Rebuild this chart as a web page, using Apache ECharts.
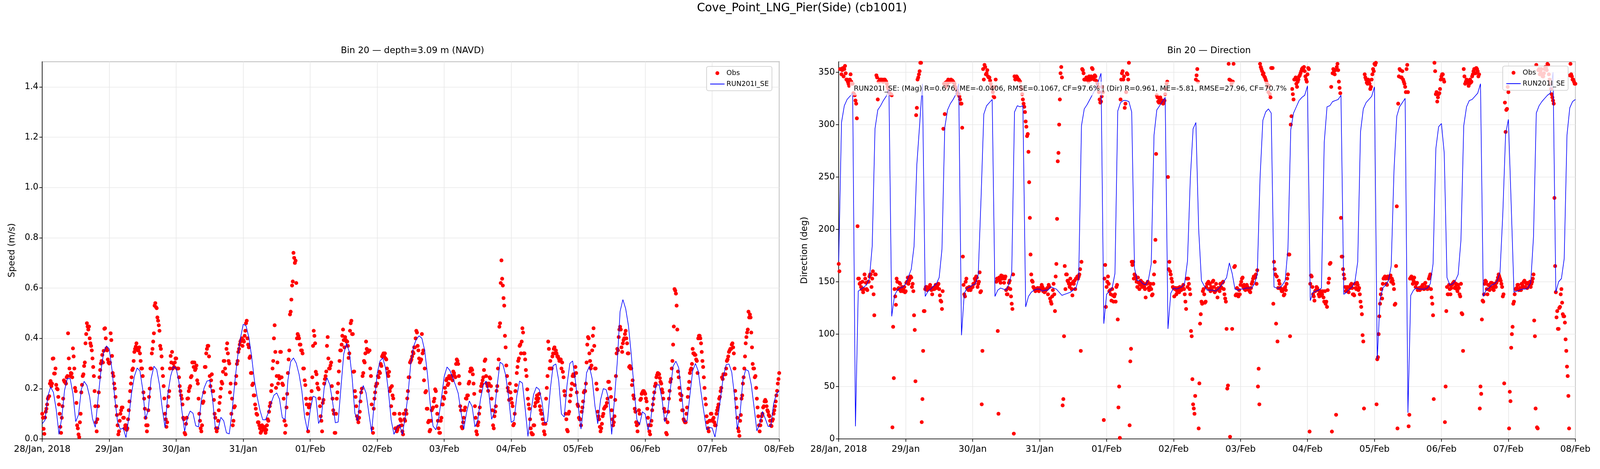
<!DOCTYPE html>
<html>
<head>
<meta charset="utf-8">
<title>Cove_Point_LNG_Pier(Side) (cb1001)</title>
<script src="https://cdn.jsdelivr.net/npm/echarts@6/dist/echarts.min.js"></script>
<style>
  html, body { margin: 0; padding: 0; background: #fff; overflow: hidden; }
  #chart { width: 100vw; height: 100vh; }
</style>
</head>
<body>
<div id="chart"></div>
<script>
// x axis: hours since 28/Jan/2018 00:00, one tick per day
const tickLabels = ['28/Jan, 2018', '29/Jan', '30/Jan', '31/Jan', '01/Feb', '02/Feb',
  '03/Feb', '04/Feb', '05/Feb', '06/Feb', '07/Feb', '08/Feb'];

// observed speed (m/s) on the hour and half hour
const obsSpeed = [
  0.10,0.04,0.085,0.12,0.16,0.17,0.23,0.22,0.32,0.26,
  0.215,0.197,0.137,0.048,0.084,0.16,0.227,0.22,0.25,0.32,
  0.25,0.26,0.36,0.28,0.19,0.054,0.018,0.066,0.185,0.25,
  0.29,0.38,0.46,0.435,0.40,0.37,0.32,0.25,0.13,0.03,
  0.13,0.245,0.30,0.334,0.35,0.44,0.36,0.316,0.30,0.42,
  0.33,0.25,0.20,0.13,0.054,0.03,0.10,0.125,0.084,0.042,
  0.054,0.042,0.114,0.19,0.245,0.28,0.346,0.367,0.358,0.352,
  0.34,0.28,0.25,0.16,0.084,0.03,0.114,0.20,0.28,0.358,
  0.42,0.54,0.52,0.47,0.43,0.358,0.28,0.21,0.10,0.048,
  0.13,0.19,0.33,0.346,0.30,0.304,0.32,0.28,0.245,0.19,
  0.16,0.084,0.024,0.06,0.16,0.19,0.21,0.25,0.304,0.304,
  0.28,0.233,0.16,0.072,0.03,0.143,0.185,0.286,0.358,0.37,
  0.25,0.233,0.19,0.155,0.084,0.03,0.072,0.143,0.20,0.22,
  0.31,0.28,0.358,0.34,0.30,0.22,0.16,0.072,0.13,0.25,
  0.31,0.358,0.387,0.40,0.393,0.41,0.46,0.40,0.364,0.328,
  0.262,0.22,0.173,0.12,0.096,0.066,0.042,0.03,0.048,0.036,
  0.024,0.054,0.072,0.13,0.19,0.28,0.40,0.346,0.25,0.22,
  0.24,0.346,0.22,0.16,0.024,0.125,0.262,0.352,0.506,0.61,
  0.74,0.70,0.62,0.417,0.40,0.375,0.352,0.28,0.233,0.16,
  0.10,0.125,0.16,0.19,0.37,0.41,0.267,0.22,0.197,0.13,
  0.072,0.143,0.22,0.25,0.37,0.32,0.28,0.304,0.16,0.10,
  0.024,0.16,0.22,0.31,0.352,0.41,0.393,0.405,0.387,0.37,
  0.34,0.46,0.417,0.267,0.19,0.13,0.078,0.084,0.149,0.20,
  0.262,0.304,0.387,0.352,0.352,0.28,0.137,0.024,0.16,0.21,
  0.22,0.245,0.262,0.29,0.334,0.328,0.32,0.28,0.25,0.19,
  0.13,0.173,0.10,0.042,0.03,0.048,0.10,0.072,0.03,0.10,
  0.072,0.10,0.19,0.245,0.31,0.328,0.34,0.364,0.43,0.37,
  0.32,0.31,0.417,0.352,0.28,0.19,0.12,0.072,0.036,0.114,
  0.125,0.16,0.19,0.10,0.042,0.024,0.084,0.137,0.16,0.185,
  0.24,0.22,0.24,0.25,0.233,0.262,0.245,0.316,0.298,0.22,
  0.114,0.042,0.084,0.125,0.16,0.173,0.227,0.28,0.274,0.22,
  0.13,0.03,0.054,0.10,0.19,0.22,0.245,0.31,0.25,0.21,
  0.22,0.24,0.16,0.054,0.09,0.13,0.21,0.316,0.46,0.71,
  0.61,0.53,0.364,0.25,0.19,0.22,0.16,0.13,0.06,0.19,
  0.262,0.31,0.37,0.34,0.44,0.34,0.316,0.25,0.16,0.12,
  0.042,0.018,0.054,0.13,0.16,0.149,0.179,0.114,0.10,0.06,
  0.018,0.16,0.25,0.358,0.31,0.28,0.34,0.364,0.352,0.328,
  0.32,0.316,0.28,0.267,0.19,0.10,0.036,0.10,0.149,0.197,
  0.25,0.25,0.286,0.185,0.13,0.078,0.054,0.125,0.185,0.19,
  0.304,0.405,0.34,0.28,0.352,0.44,0.28,0.22,0.108,0.078,
  0.03,0.06,0.10,0.125,0.13,0.16,0.227,0.20,0.114,0.054,
  0.09,0.25,0.358,0.405,0.446,0.364,0.38,0.40,0.43,0.38,
  0.34,0.29,0.28,0.233,0.16,0.108,0.054,0.06,0.10,0.16,
  0.185,0.19,0.179,0.149,0.084,0.03,0.054,0.114,0.16,0.21,
  0.245,0.262,0.257,0.227,0.197,0.16,0.108,0.024,0.066,0.16,
  0.227,0.28,0.375,0.596,0.578,0.435,0.245,0.179,0.173,0.114,
  0.072,0.066,0.125,0.20,0.262,0.28,0.358,0.34,0.334,0.31,
  0.40,0.41,0.38,0.31,0.245,0.16,0.09,0.042,0.072,0.10,
  0.072,0.084,0.054,0.10,0.125,0.16,0.19,0.245,0.257,0.257,
  0.28,0.316,0.346,0.358,0.375,0.364,0.28,0.16,0.084,0.03,
  0.072,0.16,0.22,0.28,0.38,0.423,0.506,0.495,0.423,0.298,
  0.28,0.25,0.16,0.09,0.03,0.072,0.10,0.13,0.155,0.13,
  0.108,0.09,0.054,0.072,0.10,0.13,0.173,0.22,0.262
];

// observed speed (m/s) at quarter past and quarter to
const obsSpeedQ = [
  0.084,0.02,0.108,0.137,0.167,0.22,0.21,0.319,0.26,0.28,
  0.20,0.167,0.10,0.024,0.13,0.233,0.227,0.245,0.42,0.28,
  0.262,0.245,0.328,0.203,0.143,0.042,0.007,0.10,0.215,0.257,
  0.304,0.417,0.447,0.447,0.38,0.352,0.286,0.19,0.066,0.078,
  0.185,0.274,0.31,0.304,0.438,0.40,0.352,0.304,0.304,0.393,
  0.262,0.22,0.167,0.095,0.018,0.072,0.114,0.125,0.084,0.054,
  0.036,0.078,0.149,0.22,0.274,0.31,0.358,0.38,0.352,0.364,
  0.31,0.28,0.185,0.12,0.054,0.054,0.167,0.28,0.34,0.387,
  0.53,0.524,0.483,0.452,0.37,0.328,0.25,0.161,0.078,0.066,
  0.167,0.28,0.304,0.28,0.286,0.32,0.28,0.28,0.21,0.173,
  0.137,0.078,0.018,0.084,0.161,0.203,0.245,0.304,0.286,0.274,
  0.292,0.22,0.10,0.042,0.054,0.149,0.286,0.34,0.37,0.328,
  0.21,0.257,0.19,0.10,0.042,0.042,0.114,0.167,0.227,0.267,
  0.31,0.257,0.38,0.31,0.185,0.10,0.054,0.125,0.22,0.298,
  0.346,0.375,0.393,0.37,0.387,0.43,0.47,0.375,0.322,0.262,
  0.214,0.173,0.137,0.10,0.066,0.054,0.024,0.054,0.042,0.048,
  0.036,0.078,0.108,0.143,0.214,0.31,0.452,0.203,0.304,0.25,
  0.346,0.245,0.214,0.072,0.054,0.179,0.316,0.495,0.554,0.626,
  0.72,0.709,0.40,0.41,0.375,0.352,0.34,0.28,0.214,0.137,
  0.03,0.137,0.161,0.245,0.43,0.38,0.257,0.203,0.161,0.09,
  0.03,0.155,0.238,0.268,0.405,0.28,0.292,0.21,0.114,0.024,
  0.10,0.185,0.268,0.352,0.375,0.435,0.364,0.393,0.387,0.322,
  0.43,0.47,0.417,0.268,0.167,0.09,0.066,0.108,0.185,0.25,
  0.31,0.34,0.358,0.346,0.352,0.25,0.042,0.12,0.185,0.22,
  0.25,0.267,0.298,0.328,0.34,0.34,0.316,0.262,0.267,0.203,
  0.21,0.161,0.10,0.042,0.036,0.048,0.078,0.054,0.018,0.078,
  0.114,0.161,0.245,0.304,0.316,0.346,0.364,0.40,0.423,0.352,
  0.304,0.316,0.34,0.233,0.185,0.12,0.066,0.03,0.072,0.12,
  0.149,0.197,0.13,0.072,0.024,0.072,0.137,0.167,0.203,0.233,
  0.214,0.25,0.245,0.25,0.268,0.25,0.298,0.31,0.25,0.13,
  0.048,0.066,0.114,0.161,0.173,0.22,0.268,0.28,0.257,0.179,
  0.084,0.018,0.066,0.125,0.21,0.233,0.274,0.316,0.22,0.191,
  0.245,0.21,0.114,0.042,0.108,0.191,0.28,0.446,0.62,0.637,
  0.56,0.41,0.292,0.203,0.155,0.185,0.143,0.054,0.10,0.214,
  0.286,0.32,0.375,0.387,0.423,0.34,0.274,0.197,0.137,0.078,
  0.024,0.018,0.054,0.143,0.173,0.161,0.13,0.10,0.078,0.03,
  0.06,0.203,0.387,0.28,0.28,0.328,0.358,0.34,0.34,0.328,
  0.31,0.316,0.304,0.245,0.173,0.078,0.03,0.108,0.173,0.22,
  0.257,0.214,0.262,0.137,0.084,0.078,0.108,0.149,0.191,0.22,
  0.375,0.40,0.31,0.292,0.41,0.37,0.28,0.197,0.09,0.048,
  0.042,0.09,0.12,0.13,0.143,0.227,0.20,0.167,0.078,0.066,
  0.155,0.34,0.352,0.435,0.435,0.346,0.393,0.417,0.40,0.34,
  0.286,0.28,0.214,0.173,0.12,0.066,0.03,0.114,0.155,0.179,
  0.19,0.185,0.161,0.12,0.054,0.018,0.072,0.137,0.185,0.22,
  0.254,0.26,0.242,0.22,0.185,0.12,0.078,0.018,0.108,0.191,
  0.238,0.31,0.447,0.59,0.53,0.268,0.203,0.155,0.114,0.078,
  0.066,0.10,0.167,0.227,0.274,0.298,0.34,0.334,0.316,0.262,
  0.41,0.40,0.346,0.286,0.203,0.137,0.066,0.03,0.072,0.10,
  0.078,0.066,0.054,0.114,0.137,0.167,0.203,0.238,0.257,0.257,
  0.31,0.328,0.352,0.358,0.38,0.34,0.191,0.125,0.042,0.012,
  0.095,0.173,0.245,0.328,0.405,0.435,0.483,0.483,0.364,0.28,
  0.245,0.203,0.125,0.054,0.054,0.09,0.125,0.149,0.149,0.114,
  0.095,0.072,0.051,0.078,0.114,0.149,0.191,0.238
];

// model speed (m/s), hourly
const modelSpeed = [
  0.06,0.075,0.17,0.206,0.185,0.117,0.018,0.084,0.194,0.24,
  0.24,0.179,0.069,0.096,0.197,0.229,0.213,0.167,0.081,0.046,
  0.161,0.268,0.344,0.37,0.358,0.274,0.161,0.066,0.038,0.043,
  0.005,0.084,0.182,0.249,0.282,0.27,0.197,0.078,0.117,0.239,
  0.289,0.276,0.215,0.12,0.045,0.179,0.25,0.288,0.28,0.224,
  0.114,0.03,0.084,0.111,0.102,0.052,0.048,0.155,0.203,0.23,
  0.233,0.161,0.045,0.04,0.086,0.072,0.024,0.02,0.108,0.227,
  0.328,0.4,0.456,0.45,0.405,0.328,0.233,0.167,0.114,0.076,
  0.076,0.105,0.143,0.174,0.183,0.158,0.084,0.078,0.233,0.307,
  0.322,0.301,0.257,0.191,0.087,0.033,0.114,0.17,0.165,0.061,
  0.087,0.203,0.243,0.216,0.149,0.064,0.067,0.203,0.337,0.38,
  0.346,0.245,0.102,0.072,0.179,0.212,0.183,0.102,0.027,0.152,
  0.26,0.31,0.322,0.28,0.191,0.075,0.018,0.045,0.058,0.018,
  0.084,0.173,0.298,0.367,0.396,0.41,0.4,0.352,0.257,0.138,
  0.051,0.036,0.081,0.161,0.248,0.286,0.273,0.245,0.215,0.182,
  0.108,0.039,0.105,0.151,0.129,0.048,0.072,0.158,0.214,0.23,
  0.182,0.078,0.108,0.215,0.305,0.297,0.254,0.173,0.066,0.073,
  0.17,0.23,0.222,0.12,0.01,0.102,0.176,0.206,0.197,0.149,
  0.063,0.069,0.197,0.291,0.298,0.233,0.099,0.087,0.215,0.3,
  0.31,0.23,0.132,0.039,0.138,0.263,0.289,0.239,0.131,0.06,
  0.155,0.2,0.196,0.155,0.018,0.161,0.307,0.507,0.554,0.518,
  0.45,0.337,0.203,0.078,0.057,0.108,0.099,0.035,0.078,0.167,
  0.214,0.215,0.161,0.068,0.102,0.197,0.289,0.309,0.283,0.185,
  0.067,0.072,0.173,0.271,0.3,0.27,0.185,0.108,0.036,0.046,
  0.043,0.007,0.078,0.164,0.25,0.295,0.298,0.265,0.17,0.039,
  0.102,0.233,0.276,0.27,0.215,0.126,0.032,0.06,0.109,0.081,
  0.05,0.05,0.14,0.179,0.191
];

// observed direction (deg) on the hour and half hour
const obsDir = [
  167,353,348,354,353,349,343,339,343,341,
  339,329,323,306,153,148,145,150,143,153,
  143,150,155,157,153,138,157,347,324,341,
  343,343,341,343,341,336,331,329,328,107,
  143,128,150,144,148,143,141,145,141,150,
  148,153,154,148,118,55,316,345,351,359,
  38,122,143,145,143,145,144,138,143,145,
  144,147,143,132,124,296,310,336,339,342,
  341,342,341,339,334,330,329,324,320,174,
  138,150,144,142,143,144,145,148,151,154,
  148,159,141,84,343,355,349,346,345,339,
  334,327,336,150,103,154,149,155,155,153,
  142,138,149,143,129,157,346,345,345,343,
  341,334,324,317,303,289,274,211,157,150,
  144,141,142,143,144,144,145,143,141,143,
  138,145,131,136,148,122,167,265,300,349,
  345,38,165,157,151,148,153,143,150,151,
  153,155,155,162,169,352,343,343,343,341,
  345,346,353,343,346,341,336,324,322,336,
  18,166,145,155,141,138,143,131,138,145,
  114,50,324,349,343,316,331,348,359,74,
  169,169,157,153,145,149,147,150,149,145,
  135,148,144,145,143,138,157,190,328,322,
  324,321,323,321,329,339,250,169,157,150,
  144,143,138,144,140,143,144,147,138,124,
  145,148,138,98,33,24,343,353,10,110,
  131,141,138,131,148,150,148,145,150,145,
  141,143,144,141,145,149,143,134,105,51,
  343,342,105,358,165,138,138,142,147,153,
  145,143,144,145,142,140,148,153,155,157,
  161,67,358,353,348,346,343,339,331,329,
  354,354,169,157,155,144,148,143,141,137,
  145,148,157,176,300,334,324,343,339,341,
  346,349,353,354,351,343,348,353,148,155,
  138,132,142,144,138,140,137,141,131,129,
  126,149,167,336,349,351,352,355,352,335,
  211,174,157,145,144,141,145,147,144,138,
  148,143,147,144,131,119,93,348,343,339,
  341,334,343,353,358,359,76,100,129,143,
  148,154,153,147,153,155,150,151,143,129,
  222,320,353,345,351,341,336,353,331,23,
  154,153,151,149,148,142,144,143,145,144,
  148,145,143,153,157,135,118,359,329,322,
  329,334,346,348,341,50,145,138,143,144,
  148,150,145,143,147,138,148,119,353,339,
  343,341,339,340,346,351,353,354,351,348,
  50,114,131,148,150,138,147,145,149,143,
  148,145,151,157,153,148,136,53,293,315,
  331,45,87,107,131,143,144,147,143,142,
  147,150,145,148,149,147,145,150,157,98,
  357,10,353,351,348,346,353,354,358,348,
  339,329,323,230,140,122,105,126,143,119,
  117,95,69,41,347,348,343,341,339
];

// observed direction (deg) at quarter past and quarter to
const obsDirQ = [
  160,353,352,346,356,343,341,337,348,339,
  330,328,320,203,153,149,143,140,157,149,
  142,150,157,145,160,118,157,345,341,343,
  343,341,343,342,339,334,330,329,11,58,
  136,153,143,149,141,145,142,140,149,154,
  151,155,145,141,104,309,343,348,359,16,
  84,122,145,142,144,147,142,144,143,147,
  145,148,137,131,141,339,340,341,343,341,
  343,342,340,336,333,329,327,320,297,147,
  136,153,143,145,142,145,148,153,155,145,
  150,140,33,353,357,348,352,345,342,336,
  331,326,343,153,24,151,156,153,149,155,
  138,144,151,136,124,5,343,346,343,342,
  336,329,320,312,298,291,245,176,151,145,
  143,142,144,141,143,147,141,140,142,144,
  147,134,129,142,138,155,210,273,324,355,
  32,98,143,157,150,145,148,137,148,143,
  153,153,157,84,353,349,343,345,345,346,
  343,354,345,347,342,339,331,321,327,331,
  153,126,150,148,142,132,137,136,131,147,
  30,1,343,351,346,320,349,343,13,86,
  166,153,156,150,154,143,151,145,147,143,
  148,150,142,148,137,148,169,272,326,321,
  326,323,320,323,334,341,162,160,153,145,
  136,144,141,143,145,142,145,143,131,153,
  153,143,103,57,29,41,347,341,53,119,
  129,143,130,145,149,143,141,142,151,140,
  148,135,142,148,144,150,138,131,48,358,
  2,339,341,164,137,144,136,138,150,154,
  147,142,147,144,141,144,150,155,154,148,
  50,33,355,351,349,345,341,336,337,326,
  354,129,162,110,93,151,144,141,143,138,
  142,153,176,98,308,329,343,345,336,343,
  347,351,354,355,346,341,354,7,156,145,
  136,141,145,142,136,141,138,135,141,131,
  142,153,168,7,353,348,23,358,341,330,
  174,162,153,141,145,140,144,148,138,137,
  144,149,142,138,126,99,29,345,340,343,
  339,336,348,351,357,33,78,117,138,134,
  153,155,148,155,154,156,153,148,128,165,
  10,346,352,345,343,339,331,357,12,153,
  155,148,154,145,149,143,142,145,147,143,
  149,144,145,155,143,129,38,351,331,326,
  330,343,348,343,16,122,138,147,138,147,
  149,144,148,141,144,136,120,84,346,341,
  340,337,343,341,348,353,349,353,346,29,
  43,132,138,151,143,147,142,149,145,142,
  147,149,154,155,151,145,138,321,314,336,
  10,36,100,129,138,143,147,142,144,148,
  145,151,149,144,148,150,148,153,113,29,
  11,352,348,353,346,349,355,352,357,343,
  334,326,320,165,116,105,125,138,130,117,
  111,84,60,10,358,346,343,339
];

// model direction (deg), hourly
const modelDir = [
  170,302,318,324,327,330,12,141,143,145,
  147,153,184,296,314,318,323,327,334,117,
  137,142,144,145,148,155,162,184,262,300,
  339,136,141,143,146,148,154,181,297,314,
  320,324,329,339,99,139,144,145,147,148,
  157,229,310,318,321,324,136,142,144,143,
  142,148,158,312,318,317,318,126,136,140,
  142,143,143,141,142,142,145,144,143,140,
  137,138,139,140,142,144,153,299,315,319,
  324,329,334,341,349,110,138,141,144,158,
  313,321,323,323,322,312,163,151,151,148,
  147,152,167,290,314,318,322,326,105,139,
  144,143,144,145,149,170,248,296,302,200,
  151,146,142,142,142,141,143,146,150,154,
  168,158,143,142,143,143,144,144,144,148,
  157,249,304,312,315,311,145,144,144,147,
  151,182,295,311,317,323,326,328,337,132,
  140,141,142,144,283,317,318,322,323,324,
  328,138,140,143,145,150,169,293,315,321,
  324,327,336,76,133,144,147,151,165,256,
  308,317,321,325,25,137,142,144,143,143,
  143,144,148,167,277,298,301,273,154,147,
  148,151,157,190,299,317,323,324,327,330,
  339,136,142,144,147,148,151,159,215,291,
  305,224,140,141,142,143,143,144,149,193,
  311,318,322,325,328,330,350,140,150,153,
  172,290,316,322,324
];

const statsText = 'RUN201I_SE: (Mag) R=0.676, ME=-0.0406, RMSE=0.1067, CF=97.6% | (Dir) R=0.961, ME=-5.81, RMSE=27.96, CF=70.7%';

// layout is worked out on a 5000 x 1200 sheet and scaled to the real viewport
const W = window.innerWidth || 5000;
const H = window.innerHeight || 1200;
const sx = W / 5000, sy = H / 1200, s = Math.min(sx, sy);
const X = v => v * sx, Y = v => v * sy, S = v => v * s;

const font = 'DejaVu Sans';
// half-hour samples sit on :00/:30, the second set on :15/:45
const obsPairs = (half, quarter) => half.map((v, i) => [i * 0.5, v])
  .concat(quarter.map((v, i) => [0.25 + i * 0.5, v]));
const modelPairs = arr => arr.map((v, i) => [i, v]);

function xAxis(gridIndex) {
  return {
    type: 'value', gridIndex, min: 0, max: 264, interval: 24,
    axisLine: { show: true, onZero: false, lineStyle: { color: '#000', width: S(2) } },
    axisTick: { show: true, length: S(9), lineStyle: { color: '#000', width: S(2) } },
    axisLabel: { fontFamily: font, fontSize: S(28), color: '#000', margin: Y(16),
      formatter: v => tickLabels[Math.round(v / 24)] },
    splitLine: { show: true, lineStyle: { color: '#e8e8e8', width: S(2) } }
  };
}

function yAxis(gridIndex, max, interval, name, gap, digits) {
  return {
    type: 'value', gridIndex, min: 0, max, interval,
    name, nameLocation: 'middle', nameGap: X(gap), nameRotate: 90,
    nameTextStyle: { fontFamily: font, fontSize: S(28), color: '#000' },
    axisLine: { show: true, lineStyle: { color: '#000', width: S(2) } },
    axisTick: { show: true, length: S(9), lineStyle: { color: '#000', width: S(2) } },
    axisLabel: { fontFamily: font, fontSize: S(27), color: '#000', margin: S(12),
      showMaxLabel: false, formatter: v => v.toFixed(digits) },
    splitLine: { show: true, lineStyle: { color: '#e8e8e8', width: S(2) } }
  };
}

function legend(left, top) {
  return {
    left: X(left), top: Y(top), orient: 'vertical',
    itemWidth: S(45), itemHeight: S(12), itemGap: S(12),
    padding: [S(10), S(10), S(10), S(10)], borderColor: '#cccccc', borderWidth: S(2),
    borderRadius: S(6), backgroundColor: 'rgba(255,255,255,0.8)',
    textStyle: { fontFamily: font, fontSize: S(21.5), color: '#000' },
    data: [
      { name: 'Obs', icon: 'circle' },
      { name: 'RUN201I_SE', itemStyle: { color: 'rgba(0,0,0,0)', borderWidth: 0 } }
    ]
  };
}

const chart = echarts.init(document.getElementById('chart'), null, { renderer: 'canvas' });

chart.setOption({
  animation: false,
  backgroundColor: '#fff',
  title: [
    { text: 'Cove_Point_LNG_Pier(Side) (cb1001)', left: X(2500), top: Y(2), textAlign: 'center',
      textStyle: { fontFamily: font, fontSize: S(36), fontWeight: 'normal', color: '#000' } },
    { text: 'Bin 20 \u2014 depth=3.09 m (NAVD)', left: X(1283), top: Y(114), textAlign: 'center',
      textStyle: { fontFamily: font, fontSize: S(28), fontWeight: 'normal', color: '#000' } },
    { text: 'Bin 20 \u2014 Direction', left: X(3772), top: Y(114), textAlign: 'center',
      textStyle: { fontFamily: font, fontSize: S(28), fontWeight: 'normal', color: '#000' } }
  ],
  grid: [
    { left: X(132), right: X(2565), top: Y(158), bottom: Y(77),
      show: true, borderColor: '#000', borderWidth: S(2) },
    { left: X(2621), right: X(77), top: Y(158), bottom: Y(77),
      show: true, borderColor: '#000', borderWidth: S(2) }
  ],
  legend: [legend(2208, 170), legend(4696, 169)],
  xAxis: [xAxis(0), xAxis(1)],
  yAxis: [
    yAxis(0, 1.5, 0.2, 'Speed (m/s)', 80, 1),
    yAxis(1, 360, 50, 'Direction (deg)', 92, 0)
  ],
  graphic: [{
    type: 'text', left: X(2656), top: Y(209), z: 100,
    style: {
      text: statsText, fontFamily: font, fontSize: S(22), fill: '#000',
      backgroundColor: 'rgba(255,255,255,0.7)', padding: [S(11), S(12), S(10), S(12)]
    }
  }],
  series: [
    { name: 'Obs', type: 'scatter', xAxisIndex: 0, yAxisIndex: 0, symbolSize: S(12),
      itemStyle: { color: '#ff0000', opacity: 1 }, z: 2,
      data: obsPairs(obsSpeed, obsSpeedQ) },
    { name: 'RUN201I_SE', type: 'line', xAxisIndex: 0, yAxisIndex: 0, symbol: 'none',
      lineStyle: { color: '#0000ff', width: S(2) }, itemStyle: { color: '#0000ff' }, z: 3,
      data: modelPairs(modelSpeed) },
    { name: 'Obs', type: 'scatter', xAxisIndex: 1, yAxisIndex: 1, symbolSize: S(12),
      itemStyle: { color: '#ff0000', opacity: 1 }, z: 2,
      data: obsPairs(obsDir, obsDirQ) },
    { name: 'RUN201I_SE', type: 'line', xAxisIndex: 1, yAxisIndex: 1, symbol: 'none',
      lineStyle: { color: '#0000ff', width: S(2) }, itemStyle: { color: '#0000ff' }, z: 3,
      data: modelPairs(modelDir) }
  ]
});

window.onresize = () => chart.resize();
</script>
</body>
</html>
